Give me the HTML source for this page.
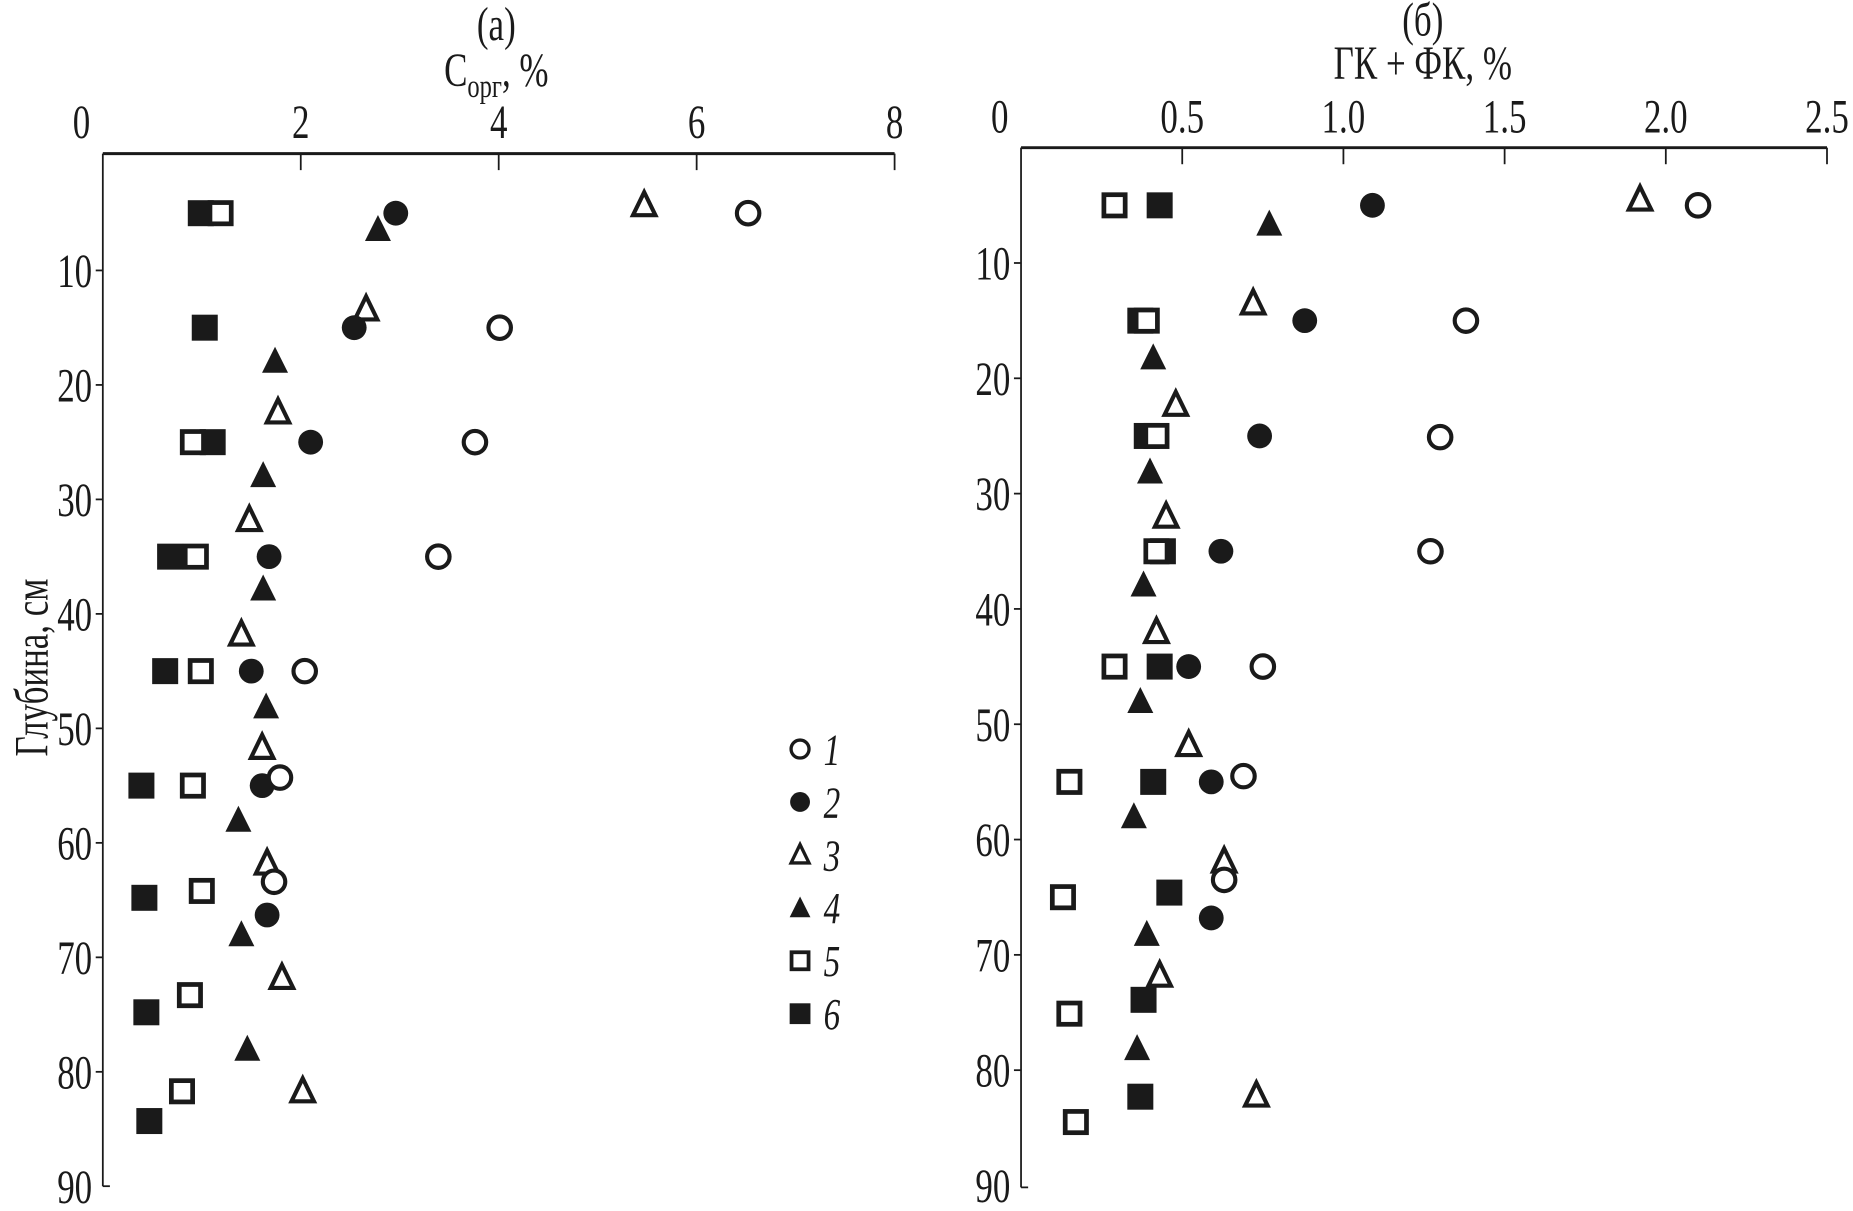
<!DOCTYPE html>
<html><head><meta charset="utf-8"><style>html,body{margin:0;padding:0;background:#fff}svg{display:block}text{font-family:"Liberation Serif",serif;fill:#1a1a1a}</style></head>
<body>
<svg id="chart" width="1853" height="1211" viewBox="0 0 1568 1025" preserveAspectRatio="none" xmlns="http://www.w3.org/2000/svg">
<g id="root"></g>
</svg>
<script>
// Panel (a): Corg %
const depthA = {
 s1:[5,15,25,35,45,54.3,63.4],
 s2:[5,15,25,35,45,55,66.3],
 s3:[4.3,13.4,22.4,31.8,41.8,51.7,61.8,71.8,81.7],
 s4:[6.4,17.9,27.9,37.8,48.1,58,68,78],
 s5:[5,25,35,45,55,64.2,73.3,81.7],
 s6:[5,15,25,35,45,55,64.8,74.8,84.3]};
const valA = {
 s1:[6.52,4.01,3.76,3.39,2.04,1.79,1.73],
 s2:[2.96,2.54,2.10,1.68,1.50,1.61,1.66],
 s3:[5.47,2.66,1.77,1.48,1.40,1.61,1.66,1.81,2.02],
 s4:[2.78,1.74,1.62,1.62,1.65,1.37,1.40,1.46],
 s5:[1.19,0.91,0.94,0.99,0.91,1.00,0.88,0.80],
 s6:[0.99,1.03,1.11,0.68,0.63,0.39,0.42,0.44,0.47]};
// Panel (b): HA+FA %
const depthB = {
 s1:[5,15,25.1,35,45,54.5,63.5],
 s2:[5,15,25,35,45,55,66.8],
 s3:[4.5,13.5,22.3,32,42,51.8,61.9,71.8,82.2],
 s4:[6.6,18.2,28.1,37.9,48,58,68.2,78.1],
 s5:[5,15,25,35,45,55,65,75.1,84.5],
 s6:[5,15,25,35,45,55,64.6,73.9,82.3]};
const valB = {
 s1:[2.10,1.38,1.30,1.27,0.75,0.69,0.63],
 s2:[1.09,0.88,0.74,0.62,0.52,0.59,0.59],
 s3:[1.92,0.72,0.48,0.45,0.42,0.52,0.63,0.43,0.73],
 s4:[0.77,0.41,0.40,0.38,0.37,0.35,0.39,0.36],
 s5:[0.29,0.39,0.42,0.42,0.29,0.15,0.13,0.15,0.17],
 s6:[0.43,0.37,0.39,0.44,0.43,0.41,0.46,0.38,0.37]};
const xTicksA = ["0","2","4","6","8"];
const xTickValsA = [0,2,4,6,8];
const xTicksB = ["0","0.5","1.0","1.5","2.0","2.5"];
const xTickValsB = [0,0.5,1,1.5,2,2.5];
const yTickVals = [10,20,30,40,50,60,70,80,90];
const legendLabels = ["1","2","3","4","5","6"];

const NS="http://www.w3.org/2000/svg";
const root=document.getElementById('root');
function mk(tag,attrs,parent){const e=document.createElementNS(NS,tag);for(const k in attrs)e.setAttribute(k,attrs[k]);(parent||root).appendChild(e);return e;}
function cond(t,x,y){t.setAttribute('transform',`translate(${x},${y}) scale(0.74,1) translate(${-x},${-y})`);}

const panels=[
 {id:'a',x0:87,x1:757,xmax:8,y0:130,yTop:132,yScale:9.69,yEnd:1004,ticks:xTicksA,tv:xTickValsA,depth:depthA,val:valA},
 {id:'b',x0:864,x1:1546,xmax:2.5,y0:125,yTop:125,yScale:9.76,yEnd:1005,ticks:xTicksB,tv:xTickValsB,depth:depthB,val:valB}];

function marker(series,cx,cy,parent,sz){
  const k=sz||1;let e;
  if(series==='s1'){e=mk('circle',{cx,cy,r:9.5*k,fill:'#fff',stroke:'#1a1a1a','stroke-width':3.5*k},parent);}
  else if(series==='s2'){e=mk('circle',{cx,cy,r:10.5*k,fill:'#1a1a1a'},parent);}
  else if(series==='s3'){e=mk('polygon',{points:`${cx},${cy-11*k} ${cx-9.5*k},${cy+8.5*k} ${cx+9.5*k},${cy+8.5*k}`,fill:'#fff',stroke:'#1a1a1a','stroke-width':3.5*k,'stroke-linejoin':'miter'},parent);}
  else if(series==='s4'){e=mk('polygon',{points:`${cx},${cy-12*k} ${cx-11*k},${cy+10*k} ${cx+11*k},${cy+10*k}`,fill:'#1a1a1a'},parent);}
  else if(series==='s5'){e=mk('rect',{x:cx-9*k,y:cy-9*k,width:18*k,height:18*k,fill:'#fff',stroke:'#1a1a1a','stroke-width':4*k},parent);}
  else {e=mk('rect',{x:cx-11*k,y:cy-11*k,width:22*k,height:22*k,fill:'#1a1a1a'},parent);}
  return e;
}

panels.forEach(p=>{
  const g=mk('g',{});
  
  
  const xs=v=>p.x0+(p.x1-p.x0)*v/p.xmax;
  const ys=d=>p.yTop+d*p.yScale;
  const ax=mk('line',{x1:p.x0,y1:p.y0,x2:p.x1,y2:p.y0,stroke:'#1a1a1a','stroke-width':2.5},g);
  
  
  const ay=mk('line',{x1:p.x0,y1:p.y0,x2:p.x0,y2:p.yEnd,stroke:'#1a1a1a','stroke-width':1.5},g);
  
  
  mk('line',{x1:p.x0,y1:p.yEnd,x2:p.x0+6,y2:p.yEnd,stroke:'#1a1a1a','stroke-width':1.5},g);
  p.tv.forEach((v,i)=>{
    if(v>0) mk('line',{x1:xs(v),y1:p.y0,x2:xs(v),y2:p.y0+14,stroke:'#1a1a1a','stroke-width':1.5},g);
    const tx=xs(v)-(v===0?18:0), ty=p.y0-13;
    const t=mk('text',{x:tx,y:ty,'font-size':40,'text-anchor':'middle'},g);
    cond(t,tx,ty);
    t.textContent=p.ticks[i];
    
    
  });
  yTickVals.forEach(d=>{
    if(d<90) mk('line',{x1:p.x0-6,y1:ys(d),x2:p.x0,y2:ys(d),stroke:'#1a1a1a','stroke-width':1.5},g);
    const tx=p.x0-9, ty=ys(d)+14;
    const t=mk('text',{x:tx,y:ty,'font-size':40,'text-anchor':'end'},g);
    cond(t,tx,ty);
    t.textContent=String(d);
    
    
  });
  ['s6','s5','s4','s3','s2','s1'].forEach(s=>{
    p.val[s].forEach((v,i)=>{
      const m=marker(s,xs(v),ys(p.depth[s][i]),g);
      
      
    });
  });
});

// titles
function txt(x,y,s,size,name){const t=mk('text',{x,y,'font-size':size,'text-anchor':'middle'});cond(t,x,y);t.textContent=s;return t;}
txt(420,34,'(a)',40,'panel-a-label');
const ct=mk('text',{x:420,y:73,'font-size':40,'text-anchor':'middle'});
cond(ct,420,73);


ct.innerHTML='С<tspan font-size="28" dy="9">орг</tspan><tspan dy="-9">, %</tspan>';
txt(1204,30,'(б)',40,'panel-b-label');
txt(1204,67,'ГК + ФК, %',40,'x-axis-title-b');
const yt=mk('text',{x:0,y:0,'font-size':40,'text-anchor':'middle',transform:'translate(40,565) rotate(-90) scale(0.74,1)'});
yt.textContent='Глубина, см';



// legend
const lg=mk('g',{});


['s1','s2','s3','s4','s5','s6'].forEach((s,i)=>{
  const y=634+i*44.8;
  const m=marker(s,677,y,lg,0.8);
  
  
  const t=mk('text',{x:697,y:y+13,'font-size':38,'font-style':'italic'},lg);
  cond(t,697,y+13);
  t.textContent=legendLabels[i];
  
  
});
</script>
</body></html>
